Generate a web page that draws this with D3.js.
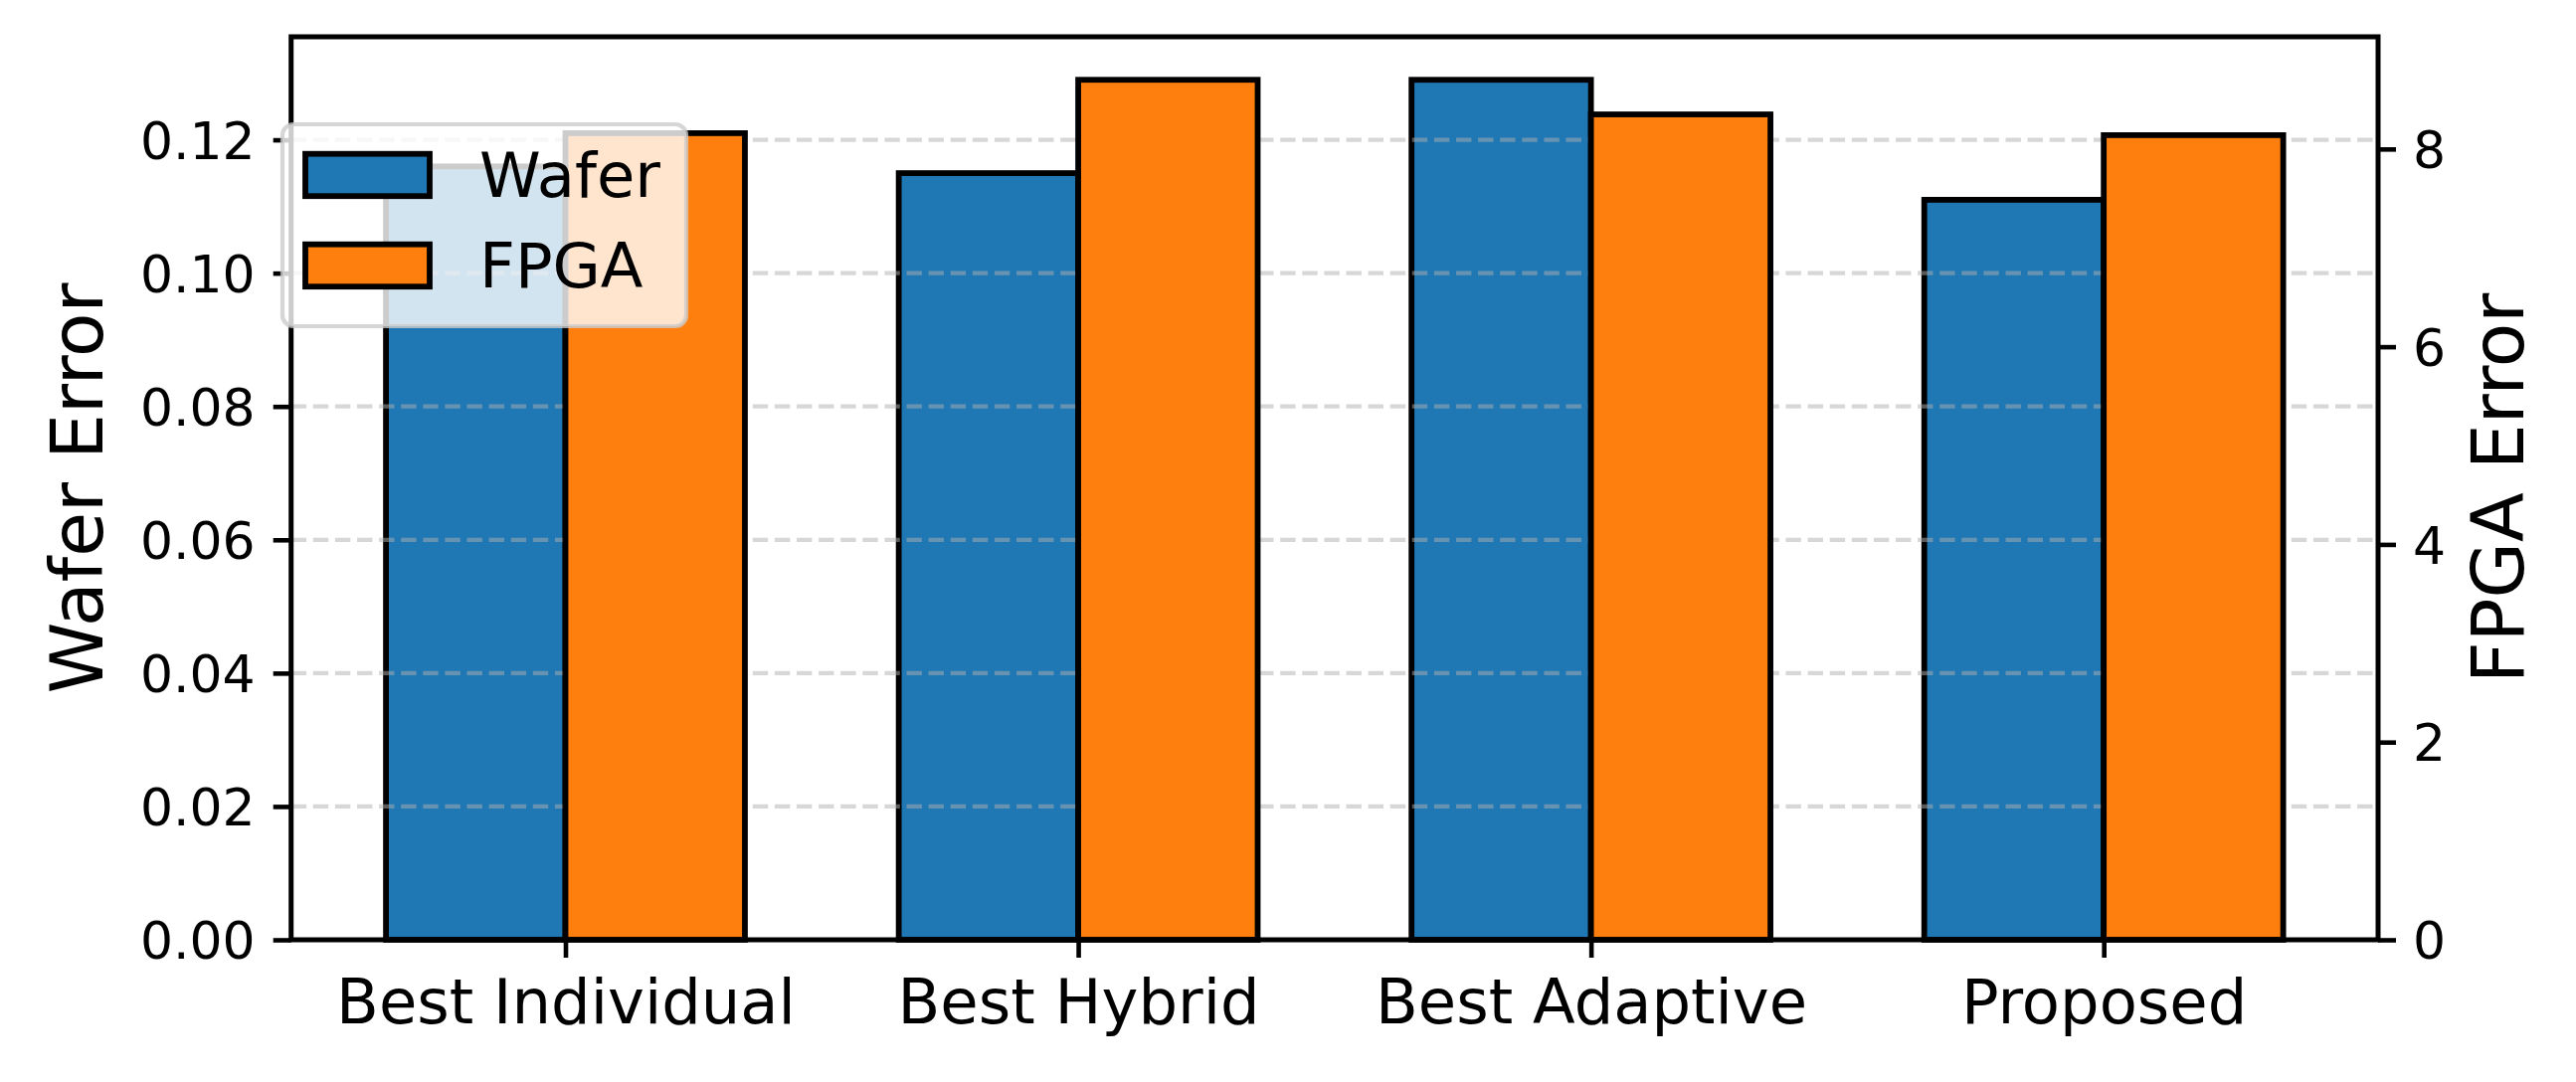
<!DOCTYPE html>
<html>
<head>
<meta charset="utf-8">
<script src="https://cdn.jsdelivr.net/npm/d3@7"></script>
<style>
  html, body { margin: 0; padding: 0; background: #fff; }
  svg { display: block; font-family: "DejaVu Sans", sans-serif; }
</style>
</head>
<body>
<svg id="chart" width="2590" height="1088"></svg>
<script>
// data
const categories = ["Best Individual", "Best Hybrid", "Best Adaptive", "Proposed"];
const waferError = [0.116, 0.115, 0.129, 0.111];
const fpgaError = [8.16, 8.70, 8.35, 8.14];
const waferTicks = [0.00, 0.02, 0.04, 0.06, 0.08, 0.10, 0.12];
const fpgaTicks = [0, 2, 4, 6, 8];
const seriesNames = ["Wafer", "FPGA"];
const seriesColors = ["#1f77b4", "#ff7f0e"];

const svg = d3.select("#chart");
const width = +svg.attr("width");
const height = +svg.attr("height");

// plot area
const plotL = 292.7, plotR = 2391, plotT = 37, plotB = 945;
const barW = 0.35;
const edgeW = 5.8;

svg.append("rect").attr("width", width).attr("height", height).attr("fill", "#fff");

// scales (matplotlib style 5% margins)
const span = categories.length - 1 + 2 * barW;
const x = d3.scaleLinear()
    .domain([-barW - 0.05 * span, categories.length - 1 + barW + 0.05 * span])
    .range([plotL, plotR]);
const yL = d3.scaleLinear().domain([0, d3.max(waferError) * 1.05]).range([plotB, plotT]);
const yR = d3.scaleLinear().domain([0, d3.max(fpgaError) * 1.05]).range([plotB, plotT]);

const gBlue = svg.append("g");
const gGrid = svg.append("g");
const gOrange = svg.append("g");
const gAxes = svg.append("g");
const gLegend = svg.append("g");

// wafer bars (left axis)
gBlue.selectAll("rect")
    .data(waferError)
    .join("rect")
    .attr("x", (d, i) => x(i - barW))
    .attr("y", d => yL(d))
    .attr("width", x(barW) - x(0))
    .attr("height", d => yL(0) - yL(d))
    .attr("fill", seriesColors[0])
    .attr("stroke", "#000")
    .attr("stroke-width", edgeW);

// dashed grid on left ticks, above wafer bars
gGrid.selectAll("line")
    .data(waferTicks.filter(t => t > 0))
    .join("line")
    .attr("x1", plotL).attr("x2", plotR)
    .attr("y1", d => yL(d)).attr("y2", d => yL(d))
    .attr("stroke", "#b0b0b0")
    .attr("stroke-opacity", 0.5)
    .attr("stroke-width", 4.2)
    .attr("stroke-dasharray", "15.4,6.7");

// fpga bars (right axis, drawn over the grid)
gOrange.selectAll("rect")
    .data(fpgaError)
    .join("rect")
    .attr("x", (d, i) => x(i))
    .attr("y", d => yR(d))
    .attr("width", x(barW) - x(0))
    .attr("height", d => yR(0) - yR(d))
    .attr("fill", seriesColors[1])
    .attr("stroke", "#000")
    .attr("stroke-width", edgeW);

// frame
gAxes.append("rect")
    .attr("x", plotL).attr("y", plotT)
    .attr("width", plotR - plotL).attr("height", plotB - plotT)
    .attr("fill", "none")
    .attr("stroke", "#000")
    .attr("stroke-width", 5);

function styleAxis(g, fontSize) {
  g.select(".domain").remove();
  g.selectAll(".tick line").attr("stroke", "#000").attr("stroke-width", 4.6);
  g.selectAll(".tick text")
      .attr("fill", "#000")
      .attr("font-size", fontSize)
      .attr("font-family", "DejaVu Sans");
}

const axL = gAxes.append("g")
    .attr("transform", `translate(${plotL},0)`)
    .call(d3.axisLeft(yL).tickValues(waferTicks).tickFormat(d3.format(".2f")).tickSize(18).tickPadding(18));
styleAxis(axL, 52);
axL.selectAll(".tick text").attr("dy", "0.36em");

const axR = gAxes.append("g")
    .attr("transform", `translate(${plotR},0)`)
    .call(d3.axisRight(yR).tickValues(fpgaTicks).tickFormat(d3.format("d")).tickSize(18).tickPadding(17));
styleAxis(axR, 52);
axR.selectAll(".tick text").attr("dy", "0.36em");

const axB = gAxes.append("g")
    .attr("transform", `translate(0,${plotB})`)
    .call(d3.axisBottom(x).tickValues(d3.range(categories.length)).tickFormat(i => categories[i]).tickSize(18));
styleAxis(axB, 62.4);
axB.selectAll(".tick text").attr("y", 84).attr("dy", 0);

// axis titles
gAxes.append("text")
    .attr("transform", `translate(103,${(plotT + plotB) / 2}) rotate(-90)`)
    .attr("text-anchor", "middle")
    .attr("font-size", 72.8)
    .text("Wafer Error");
gAxes.append("text")
    .attr("transform", `translate(2537,${(plotT + plotB) / 2}) rotate(-90)`)
    .attr("text-anchor", "middle")
    .attr("font-size", 72.8)
    .text("FPGA Error");

// legend
gLegend.append("rect")
    .attr("x", 284).attr("y", 125)
    .attr("width", 406).attr("height", 203)
    .attr("rx", 11).attr("ry", 11)
    .attr("fill", "#fff").attr("fill-opacity", 0.8)
    .attr("stroke", "#cccccc").attr("stroke-opacity", 0.8)
    .attr("stroke-width", 4.2);

const items = gLegend.selectAll("g.item")
    .data(seriesNames)
    .join("g")
    .attr("class", "item")
    .attr("transform", (d, i) => `translate(0,${i * 91})`);
items.append("rect")
    .attr("x", 307).attr("y", 154.7)
    .attr("width", 125).attr("height", 42.5)
    .attr("fill", (d, i) => seriesColors[i])
    .attr("stroke", "#000")
    .attr("stroke-width", edgeW);
items.append("text")
    .attr("x", 482).attr("y", 198)
    .attr("font-size", 62.4)
    .text(d => d);
</script>
</body>
</html>
